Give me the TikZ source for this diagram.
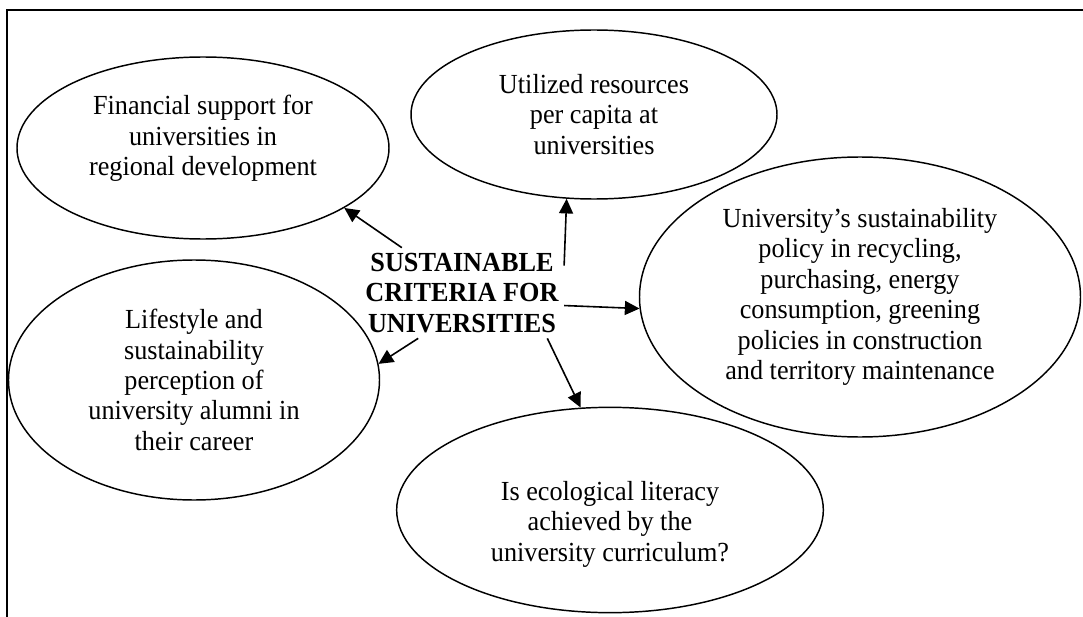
\documentclass[tikz,border=0pt]{standalone}
\usepackage{fontspec}
\setmainfont{Liberation Serif}[FakeStretch=0.95]
\usetikzlibrary{shapes.geometric}
\usetikzlibrary{arrows.meta}

\begin{document}
\begin{tikzpicture}[
		x=0.75pt, y=-0.75pt,
		font=\fontsize{20.7}{22.8}\selectfont,
		n/.style={draw, ellipse, line width=1.1pt, inner sep=0pt, align=center},
		a/.style={-{Triangle[length=11pt, width=10.5pt]}, line width=1.2pt},
		hub/.style={align=center, inner sep=4pt, font=\fontsize{20.7}{22.8}\selectfont\bfseries},
	]
		\useasboundingbox (0,0) rectangle (1083,617);
		\draw[line width=1.5pt] (7,617) -- (7,10) -- (1083,10);

		\node[hub] (C) at (462,293) {SUSTAINABLE\\ CRITERIA FOR\\ UNIVERSITIES};
		\node[n, minimum width=279pt, minimum height=136.5pt] (F) at (203,148) {Financial support for\\ universities in\\ regional development\\[-4pt]\mbox{}};
		\node[n, minimum width=274.5pt, minimum height=126.75pt] (U) at (594,114.5) {Utilized resources\\ per capita at\\ universities};
		\node[n, minimum width=330.75pt, minimum height=210pt] (R) at (860,297) {University's sustainability\\ policy in recycling,\\ purchasing, energy\\ consumption, greening\\ policies in construction\\ and territory maintenance};
		\node[n, minimum width=278.25pt, minimum height=180pt] (L) at (194,380) {Lifestyle and\\ sustainability\\ perception of\\ university alumni in\\ their career};
		\node[n, minimum width=320pt, minimum height=154pt] (B) at (610,510) {\mbox{}\\[13pt]Is ecological literacy\\ achieved by the\\ university curriculum?};

		\draw[a] (C.143) -- (F.-23);
		\draw[a] (C.15) -- (U.252);
		\draw[a] (C.-7) -- (R.183);
		\draw[a] (C.226) -- (L.5);
		\draw[a] (C.-28) -- (B.106);
	\end{tikzpicture}
\end{document}
